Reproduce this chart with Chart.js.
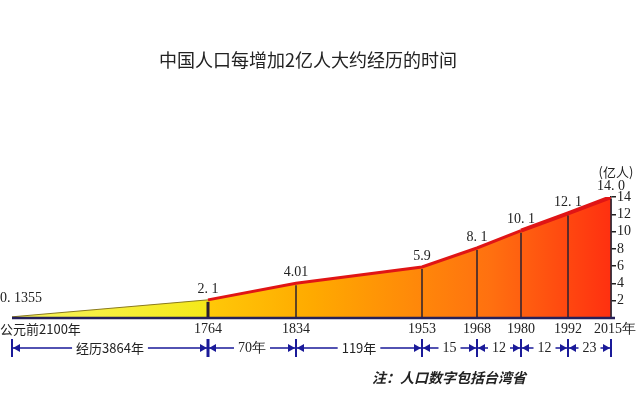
<!DOCTYPE html><html><head><meta charset="utf-8">
<script src="https://cdn.jsdelivr.net/npm/chart.js@4"></script>
<style>body{margin:0;background:#fff}#w{width:640px;height:403px}</style></head><body><div id="w"><canvas id="c"></canvas></div>
<script>
const categories=['公元前2100年','1764','1834','1953','1968','1980','1992','2015年'];
const xSlots=[0,196,284,410,465,509,556,599];
const population=[0.1355,2.1,4.01,5.9,8.1,10.1,12.1,14.0];
const valueLabels=['0. 1355','2. 1','4.01','5.9','8. 1','10. 1','12. 1','14. 0'];
const spanLabels=['经历3864年','70年','119年','15','12','12','23'];
const yTicks=[2,4,6,8,10,12,14];
const serif='"Liberation Serif","DejaVu Serif",serif';
const cjk='"Noto Sans CJK SC",sans-serif';

const deco={id:'deco',afterDatasetsDraw(ch){
 const c=ch.ctx,x=ch.scales.x,y=ch.scales.y,y0=y.getPixelForValue(0);
 c.save();
 c.strokeStyle='#2a2030';
 for(let i=1;i<xSlots.length;i++){const px=x.getPixelForValue(xSlots[i]);c.lineWidth=i==1?3:1.5;c.beginPath();c.moveTo(px,y.getPixelForValue(population[i])+2);c.lineTo(px,y0);c.stroke();}
 c.strokeStyle='#25205a';c.lineWidth=2.5;c.beginPath();c.moveTo(x.left,y0);c.lineTo(x.right+4,y0);c.stroke();
 c.fillStyle='#222';c.font='14px '+serif;c.textBaseline='bottom';
 valueLabels.forEach((t,i)=>{const px=x.getPixelForValue(xSlots[i]),py=y.getPixelForValue(population[i]);c.textAlign=i==0?'left':'center';c.fillText(t,i==0?px-12:px,py-(i==0?12:4));});
 c.font='13px '+cjk;c.textAlign='center';c.fillText('(亿人)',x.right+5,y.getPixelForValue(14)-18);
 c.textBaseline='middle';
 categories.forEach((t,i)=>{const px=x.getPixelForValue(xSlots[i]);c.font=(i==0?'13px '+cjk:'14px '+serif);c.textAlign=i==0?'left':'center';c.fillText(t,i==0?0:px+(i==7?4:0),y0+11);});
 const sy=y0+30;c.strokeStyle='#1a1a99';c.fillStyle='#1a1a99';
 for(let i=0;i<xSlots.length;i++){const px=x.getPixelForValue(xSlots[i]);c.lineWidth=i==1?3:2;c.beginPath();c.moveTo(px,sy-9);c.lineTo(px,sy+9);c.stroke();}
 spanLabels.forEach((t,i)=>{const a=x.getPixelForValue(xSlots[i])+1,b=x.getPixelForValue(xSlots[i+1])-1,m=(a+b)/2;
  c.font=(t.length>3?'13px '+cjk:'14px '+serif);const w=c.measureText(t).width+8;
  c.lineWidth=1.5;c.beginPath();c.moveTo(a,sy);c.lineTo(m-w/2,sy);c.moveTo(m+w/2,sy);c.lineTo(b,sy);c.stroke();
  c.beginPath();c.moveTo(a,sy);c.lineTo(a+7,sy-4);c.lineTo(a+7,sy+4);c.fill();
  c.beginPath();c.moveTo(b,sy);c.lineTo(b-7,sy-4);c.lineTo(b-7,sy+4);c.fill();
  c.fillStyle='#222';c.textAlign='center';c.fillText(t,m,sy);c.fillStyle='#1a1a99';});
 c.fillStyle='#222';c.font='18px '+cjk;c.textAlign='center';c.fillText('中国人口每增加2亿人大约经历的时间',308,60);
 c.font='italic bold 14px '+cjk;c.textAlign='left';c.fillText('注：人口数字包括台湾省',372,378);
 c.restore();}};

new Chart(document.getElementById('c'),{type:'line',
 data:{datasets:[{data:xSlots.map((v,i)=>({x:v,y:population[i]})),borderColor:'#e01515',borderWidth:3,pointRadius:0,fill:'origin',tension:0,
  segment:{borderColor:s=>s.p0DataIndex==0?'#8a7a20':'#e01515',borderWidth:s=>s.p0DataIndex==0?1:(s.p0DataIndex>4?4:3)},
  backgroundColor(ctx){const a=ctx.chart.chartArea;if(!a)return '#fc0';const g=ctx.chart.ctx.createLinearGradient(a.left,0,a.right,0);const f=xSlots[1]/xSlots[7];
   g.addColorStop(0,'#f8f560');g.addColorStop(f,'#f5e818');g.addColorStop(f+0.002,'#ffc808');g.addColorStop(0.5,'#ffaa00');g.addColorStop(0.8,'#ff7010');g.addColorStop(1,'#ff3010');return g;}}]},
 options:{responsive:true,maintainAspectRatio:false,animation:false,
  layout:{padding:{left:12,top:197,bottom:85,right:0}},
  plugins:{legend:{display:false},tooltip:{enabled:false}},
  scales:{x:{type:'linear',min:0,max:xSlots[7],display:false},
   y:{position:'right',min:0,max:14,afterFit(s){s.width=29;},afterBuildTicks(s){s.ticks=yTicks.map(v=>({value:v}));},
    grid:{drawOnChartArea:false,tickLength:5,color:'#222',lineWidth:1.5},border:{display:true,color:'#222',width:1.5},
    ticks:{padding:1,color:'#222',font:{family:serif,size:14}}}}},
 plugins:[deco]});
</script></body></html>
